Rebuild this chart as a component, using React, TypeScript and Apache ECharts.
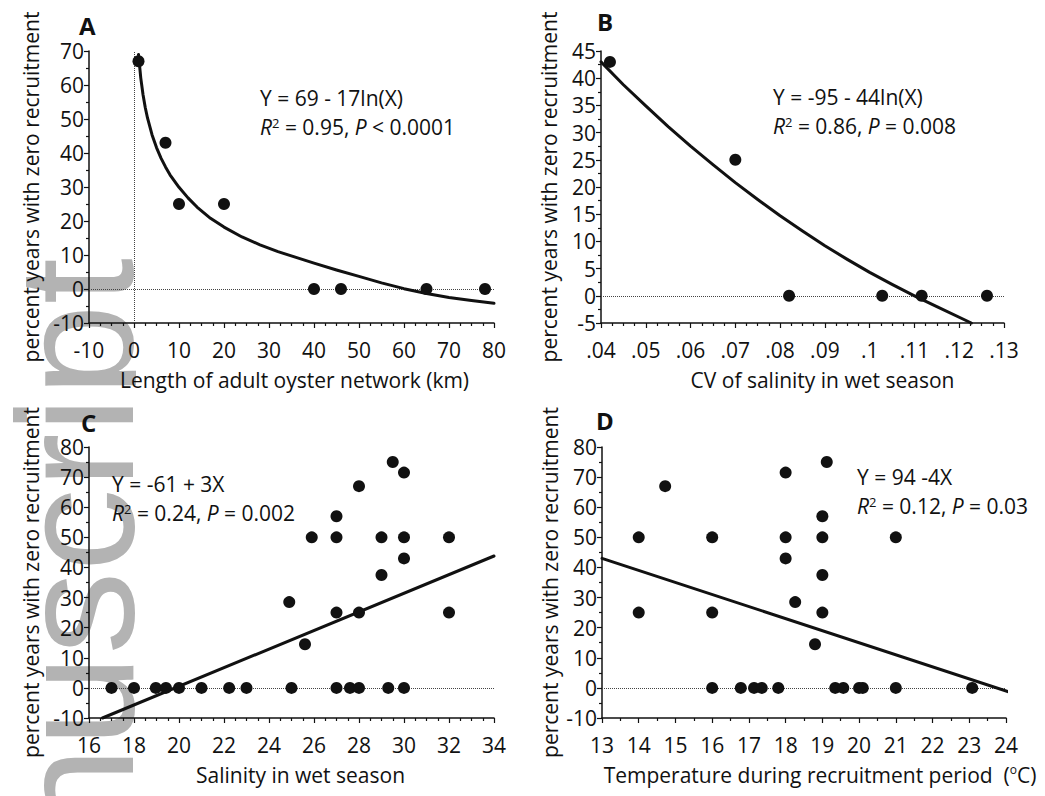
import React, { useEffect, useRef } from "react";
import * as echarts from "echarts";

const FONT = "'Open Sans', 'Noto Sans', sans-serif";
const INK = "#111111";

// Panel A: length of adult oyster network (km)
const aX = [1, 7, 10, 20, 40, 46, 65, 78];
const aY = [67, 43, 25, 25, 0, 0, 0, 0];
const aFitX = [1, 1.5, 2, 2.5, 3, 4, 5, 6, 7, 8, 10, 12, 14, 17, 20, 24, 28, 32, 36, 40, 45, 50, 55, 60, 65, 70, 75, 80];
const aFitY = [69, 62.1, 57.2, 53.4, 50.3, 45.4, 41.6, 38.5, 35.9, 33.6, 29.9, 26.8, 24.1, 20.8, 18.2, 15.3, 13.0, 11.0, 9.3, 7.6, 5.6, 3.7, 1.8, 0.1, -1.3, -2.5, -3.4, -4.2];

// Panel B: CV of salinity in wet season
const bX = [0.042, 0.07, 0.082, 0.1028, 0.1116, 0.1262];
const bY = [43, 25, 0, 0, 0, 0];
const bFitX = [0.04, 0.045, 0.05, 0.055, 0.06, 0.065, 0.07, 0.075, 0.08, 0.085, 0.09, 0.095, 0.1, 0.105, 0.11, 0.115, 0.1227];
const bFitY = [43, 38.8, 34.9, 31.1, 27.5, 24.1, 20.8, 17.7, 14.7, 11.9, 9.2, 6.7, 4.3, 2.1, 0.0, -2.0, -5.0];

// Panel C: salinity in wet season
const cX = [17, 18, 18.97, 19.42, 20, 21, 22.23, 23, 25, 24.9, 25.6, 25.9, 27, 27, 27, 27, 27.6, 28, 28, 28, 29, 29, 29.5, 29.3, 30, 30, 30, 30, 32, 32];
const cY = [0, 0, 0, 0, 0, 0, 0, 0, 0, 28.5, 14.5, 50, 57, 50, 25, 0, 0, 0, 67, 25, 50, 37.5, 75, 0, 71.5, 50, 43, 0, 50, 25];
const cFitX = [16.6, 34];
const cFitY = [-10, 43.8];

// Panel D: temperature during recruitment period
const dX = [14, 14, 14.72, 16, 16, 16, 16.78, 17.14, 17.35, 17.8, 18, 18, 18, 18.26, 18.8, 19, 19, 19, 19, 19.12, 19.35, 19.57, 20, 20.1, 21, 21, 23.08];
const dY = [50, 25, 67, 50, 25, 0, 0, 0, 0, 0, 71.5, 50, 43, 28.5, 14.5, 57, 50, 37.5, 25, 75, 0, 0, 0, 0, 50, 0, 0];
const dFitX = [13, 24.1];
const dFitY = [43, -1.4];

const panelLetters = ["A", "B", "C", "D"];
const eqLine1 = ["Y = 69 - 17ln(X)", "Y = -95 - 44ln(X)", "Y = -61 + 3X", "Y = 94 -4X"];
const eqR2 = ["0.95", "0.86", "0.24", "0.12"];
const eqP = ["< 0.0001", "= 0.008", "= 0.002", "= 0.03"];
const xNames = [
  "Length of adult oyster network (km)",
  "CV of salinity in wet season",
  "Salinity in wet season",
  "Temperature during recruitment period  ({o|o}C)",
];
const yName = "percent years with zero recruitment";

const zip = (xs: number[], ys: number[]) => xs.map((x, i) => [x, ys[i]]);

export default function App() {
  const ref = useRef<HTMLDivElement>(null);

  useEffect(() => {
    if (!ref.current) return;
    const chart = echarts.init(ref.current, undefined, { renderer: "svg" });

    const grids = [
      { left: 89, top: 51, width: 405, height: 272 },
      { left: 601, top: 51, width: 403, height: 272 },
      { left: 89, top: 447, width: 405, height: 271 },
      { left: 602, top: 447, width: 404, height: 271 },
    ].map((g) => ({ ...g, outerBoundsMode: "none", containLabel: false }));

    const xCfg = [
      { min: -10, max: 80, interval: 10, minor: 4, shift: 3 },
      { min: 0.04, max: 0.13, interval: 0.01, minor: 4, shift: 20 },
      { min: 16, max: 34, interval: 2, minor: 4, shift: 9 },
      { min: 13, max: 24, interval: 1, minor: 2, shift: 16 },
    ];
    const yCfg = [
      { min: -10, max: 70, interval: 10, gap: 48 },
      { min: -5, max: 45, interval: 5, gap: 42 },
      { min: -10, max: 80, interval: 10, gap: 48 },
      { min: -10, max: 80, interval: 10, gap: 42 },
    ];

    const axisCommon = (i: number) => ({
      gridIndex: i,
      type: "value",
      axisLine: { show: true, onZero: false, lineStyle: { color: INK, width: 1.5 } },
      axisTick: { show: true, length: 5, lineStyle: { color: INK, width: 1.2 } },
      splitLine: { show: false },
      minorSplitLine: { show: false },
      nameLocation: "middle",
      nameMoveOverlap: false,
    });

    const xAxis = xCfg.map((c, i) => ({
      ...axisCommon(i),
      min: c.min,
      max: c.max,
      interval: c.interval,
      minorTick: { show: true, splitNumber: c.minor, length: 3, lineStyle: { color: INK, width: 1.2 } },
      axisLabel: {
        fontSize: 21,
        color: INK,
        fontFamily: FONT,
        margin: 16,
        showMinLabel: true,
        showMaxLabel: true,
        hideOverlap: false,
        formatter:
          i === 1
            ? (v: number) => String(Math.round(v * 1000) / 1000).replace(/^0\./, ".")
            : (v: number) => String(Math.round(v * 1000) / 1000),
      },
      name: xNames[i],
      nameGap: 45,
      nameTextStyle: {
        fontSize: 21,
        color: INK,
        fontFamily: FONT,
        lineHeight: 24,
        padding: [0, 0, 0, c.shift * 2],
        rich: { o: { fontSize: 12, fontFamily: FONT, color: INK, lineHeight: 12, verticalAlign: "top" } },
      },
    }));

    const yAxis = yCfg.map((c, i) => ({
      ...axisCommon(i),
      min: c.min,
      max: c.max,
      interval: c.interval,
      minorTick: { show: true, splitNumber: 2, length: 3, lineStyle: { color: INK, width: 1.2 } },
      axisLabel: {
        fontSize: 21,
        color: INK,
        fontFamily: FONT,
        margin: 5,
        showMinLabel: true,
        showMaxLabel: true,
        hideOverlap: false,
      },
      name: yName,
      nameGap: c.gap,
      nameTextStyle: { fontSize: 21, color: INK, fontFamily: FONT },
    }));

    const pts = [zip(aX, aY), zip(bX, bY), zip(cX, cY), zip(dX, dY)];
    const fits = [zip(aFitX, aFitY), zip(bFitX, bFitY), zip(cFitX, cFitY), zip(dFitX, dFitY)];

    const series: any[] = [];
    for (let i = 0; i < 4; i++) {
      const markData: any[] = [{ yAxis: 0 }];
      if (i === 0) markData.push({ xAxis: 0 });
      series.push({
        type: "line",
        xAxisIndex: i,
        yAxisIndex: i,
        data: fits[i],
        showSymbol: false,
        symbol: "none",
        smooth: false,
        clip: false,
        z: 2,
        lineStyle: { color: INK, width: 3, join: "round", cap: "round" },
        markLine: {
          silent: true,
          symbol: ["none", "none"],
          label: { show: false },
          lineStyle: { type: "dotted", color: "#444", width: 1 },
          data: markData,
          z: 1,
        },
      });
      series.push({
        type: "scatter",
        xAxisIndex: i,
        yAxisIndex: i,
        data: pts[i],
        symbol: "circle",
        symbolSize: 12,
        itemStyle: { color: INK, opacity: 1 },
        z: 3,
      });
    }

    const letterPos = [
      [79, 13],
      [597, 9],
      [81, 410],
      [596, 408],
    ];
    const eqPos = [
      [260, 98, 127],
      [773, 97, 126],
      [112, 484, 513],
      [857, 477, 506],
    ];

    const graphic: any[] = [];
    for (let i = 0; i < 4; i++) {
      graphic.push({
        type: "text",
        x: letterPos[i][0],
        y: letterPos[i][1],
        style: {
          text: panelLetters[i],
          fontSize: 24,
          fontWeight: "bold",
          fontFamily: FONT,
          fill: INK,
        },
      });
      graphic.push({
        type: "text",
        x: eqPos[i][0],
        y: eqPos[i][1],
        style: {
          text: eqLine1[i],
          fontSize: 21,
          fontFamily: FONT,
          fill: INK,
          lineHeight: 21,
          verticalAlign: "middle",
        },
      });
      graphic.push({
        type: "text",
        x: eqPos[i][0],
        y: eqPos[i][2],
        style: {
          text: `{i|R}{s|2} = ${eqR2[i]}, {i|P} ${eqP[i]}`,
          fontSize: 21,
          fontFamily: FONT,
          fill: INK,
          lineHeight: 21,
          verticalAlign: "middle",
          rich: {
            i: { fontStyle: "italic", fontSize: 21, fontFamily: FONT, fill: INK, lineHeight: 21 },
            s: { fontSize: 13, fontFamily: FONT, fill: INK, lineHeight: 12, verticalAlign: "top" },
          },
        },
      });
    }

    chart.setOption({
      animation: false,
      backgroundColor: "transparent",
      grid: grids,
      xAxis,
      yAxis,
      series,
      graphic,
    } as any);

    return () => chart.dispose();
  }, []);

  return (
    <div style={{ position: "fixed", left: 0, top: 0, width: 1045, height: 796, background: "#ffffff" }}>
      <div
        style={{
          position: "absolute",
          left: 0,
          top: 0,
          width: 136,
          height: 796,
          overflow: "hidden",
          zIndex: 0,
        }}
      >
        <span
          style={{
            position: "absolute",
            left: -7.5,
            top: 258,
            transformOrigin: "0 0",
            transform: "rotate(-90deg) translateX(-100%)",
            fontFamily: "'Liberation Sans', Arial, sans-serif",
            fontSize: 166,
            lineHeight: "166px",
            color: "#b3b3b3",
            whiteSpace: "nowrap",
          }}
        >
          Author Manuscript
        </span>
      </div>
      <div ref={ref} style={{ position: "absolute", left: 0, top: 0, width: 1045, height: 796, zIndex: 1 }} />
    </div>
  );
}
